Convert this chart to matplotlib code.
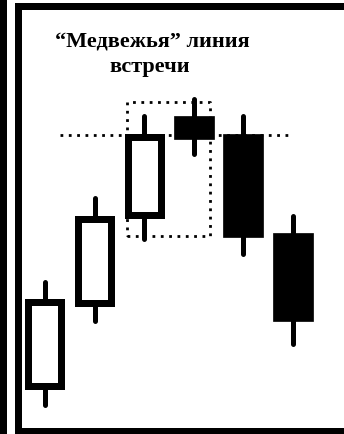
import matplotlib
matplotlib.use('Agg')
import matplotlib.pyplot as plt
from matplotlib.patches import Rectangle

# ── Data: six candles (price units) ───────────────────────────────────
opens = [5.3, 13.6, 22.4, 32.3, 30.5, 20.6]
closes = [13.7, 22.0, 30.2, 30.0, 20.2, 11.8]
highs = [15.7, 24.1, 32.3, 34.0, 32.3, 22.3]
lows = [3.4, 11.8, 20.0, 28.5, 18.5, 9.5]
meet_level = 30.4                      # dotted "meeting line"
box = (1.65, 3.33, 20.3, 33.7)         # dotted frame round candles 3 and 4
title_lines = ['\u201cМедвежья\u201d линия', 'встречи']

W, H, DPI = 344, 435, 100
fig = plt.figure(figsize=(W / DPI, H / DPI), dpi=DPI)
fig.patch.set_facecolor('white')
ax = fig.add_axes([0, 0, 1, 1])
ax.set_xlim(-0.907, 6.03)
ax.set_ylim(0.5, 44.0)
ax.axis('off')

px_x = W / (6.03 + 0.907)   # pixels per x unit
edge_px = 7
body_w = 40 / px_x

for i, (o, c, h, l) in enumerate(zip(opens, closes, highs, lows)):
    ax.plot([i, i], [l, h], color='black', lw=3.6, solid_capstyle='round',
            zorder=1)
    lo, hi = min(o, c), max(o, c)
    if c > o:
        # hollow body, stroke kept inside the outer edge
        ix = edge_px / 2 / px_x
        ax.add_patch(Rectangle((i - body_w / 2 + ix, lo), body_w - 2 * ix,
                               hi - lo, facecolor='white', edgecolor='black',
                               lw=edge_px * 72 / DPI, joinstyle='miter',
                               zorder=3))
    else:
        ax.add_patch(Rectangle((i - body_w / 2, lo), body_w, hi - lo,
                               facecolor='black', edgecolor='black', lw=0.5,
                               zorder=3))

ax.plot([0.3, 4.94], [meet_level, meet_level], color='black', lw=2.0,
        linestyle=(0, (1, 2)), zorder=2)
x0, x1, y0, y1 = box
ax.plot([x0, x1, x1, x0, x0], [y0, y0, y1, y1, y0], color='black', lw=2.0,
        linestyle=(0, (1, 2)), zorder=2)

for (cx, base), line in zip([(152, 47), (150, 72)], title_lines):
    fig.text(cx / W, 1 - base / H, line, ha='center', va='baseline',
             family='Liberation Serif', fontweight='bold', fontsize=16)


# ── Frame (double line on the left, bands top and bottom) ─────────────
def band(x, y, w, h):
    fig.add_artist(Rectangle((x / W, 1 - (y + h) / H), w / W, h / H,
                             transform=fig.transFigure, facecolor='black',
                             edgecolor='none'))


band(0, 0, 7, H)
band(15, 4, 7, H - 4)
band(15, 4, W - 15, 7)
band(15, 429, W - 15, 6)

fig.savefig('out.png', dpi=DPI, facecolor='white')
